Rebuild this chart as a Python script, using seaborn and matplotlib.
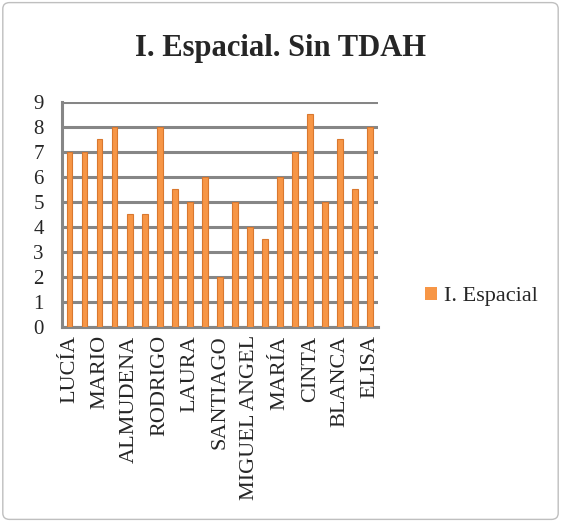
import matplotlib
matplotlib.use("Agg")
import matplotlib.pyplot as plt
from matplotlib.patches import FancyBboxPatch, Patch
import seaborn as sns
import pandas as pd

# data (only every other name is visible on the axis)
positions = list(range(21))
labels = ["LUCÍA", "", "MARIO", "", "ALMUDENA", "", "RODRIGO", "", "LAURA", "",
          "SANTIAGO", "", "MIGUEL ANGEL", "", "MARÍA", "", "CINTA", "", "BLANCA", "", "ELISA"]
espacial = [7, 7, 7.5, 8, 4.5, 4.5, 8, 5.5, 5, 6, 2, 5, 4, 3.5, 6, 7, 8.5, 5, 7.5, 5.5, 8]

df = pd.DataFrame({"pos": positions, "valor": espacial})

sns.set_style("white")
plt.rcParams["font.family"] = ["Liberation Serif", "DejaVu Serif"]

fig = plt.figure(figsize=(5.61, 5.22), dpi=100)
ax = fig.add_axes([0.1105, 0.3736, 0.563, 0.431])

sns.barplot(data=df, x="pos", y="valor", color="#F79646", width=0.38,
            edgecolor="#D9782F", linewidth=0.8, saturation=1, ax=ax, zorder=3)

ax.set_ylim(0, 9)
ax.set_xlim(-0.5, 20.5)
ax.set_yticks(range(10))
ax.yaxis.grid(True, color="#868686", linewidth=2.2, zorder=0)
ax.set_axisbelow(True)
for s in ["top", "right"]:
    ax.spines[s].set_visible(False)
for s in ["left", "bottom"]:
    ax.spines[s].set_color("#868686")
    ax.spines[s].set_linewidth(2.2)

ax.set_xticks(positions)
ax.set_xticklabels(labels, rotation=90, fontsize=16)
ax.tick_params(axis="x", length=0, pad=6)
ax.set_xticks([p - 0.5 for p in positions] + [20.5], minor=True)
ax.tick_params(axis="x", which="minor", length=5, width=1.5, color="#868686")
ax.tick_params(axis="y", labelsize=15, length=5, width=1.5, color="#868686",
               direction="out", pad=8)
ax.set_xlabel("")
ax.set_ylabel("")

fig.text(0.5, 0.908, "I. Espacial. Sin TDAH", ha="center", va="center",
         fontsize=22, fontweight="bold")

handle = Patch(facecolor="#F79646", edgecolor="none")
fig.legend([handle], ["I. Espacial"], loc="center left", bbox_to_anchor=(0.722, 0.432),
           frameon=False, fontsize=16, handlelength=0.55, handleheight=0.55, handletextpad=0.3)

border = FancyBboxPatch((0.005, 0.005), 0.99, 0.99, boxstyle="round,pad=0,rounding_size=0.012",
                        transform=fig.transFigure, facecolor="none", edgecolor="#BFBFBF", linewidth=1)
fig.patches.append(border)

fig.savefig("out.png", dpi=100)
